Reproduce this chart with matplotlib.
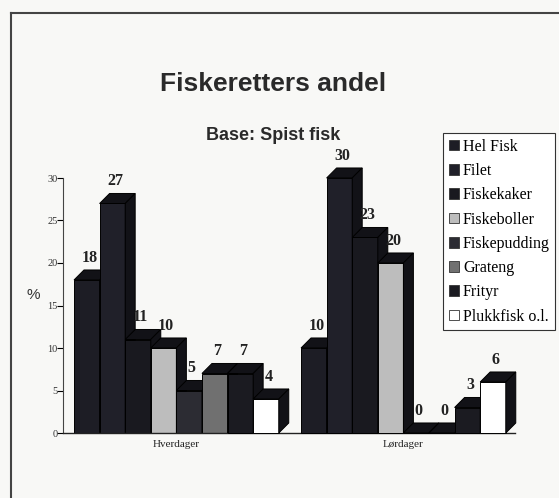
import matplotlib
matplotlib.use('Agg')
import matplotlib.pyplot as plt
from matplotlib.patches import Patch
import numpy as np

# data
groups = ['Hverdager', 'Lørdager']
series = ['Hel Fisk', 'Filet', 'Fiskekaker', 'Fiskeboller',
          'Fiskepudding', 'Grateng', 'Frityr', 'Plukkfisk o.l.']
hverdager = [18, 27, 11, 10, 5, 7, 7, 4]
lordager = [10, 30, 23, 20, 0, 0, 3, 6]
yticks = [0, 5, 10, 15, 20, 25, 30]

front_colors = ['#1d1d25', '#202029', '#19191f', '#bdbdbd',
                '#2c2c33', '#707070', '#1b1b21', '#ffffff']
face_dark = '#121217'
bg = '#f8f8f6'

fig = plt.figure(figsize=(5.59, 4.98), dpi=100, facecolor=bg)
ax = fig.add_axes([63 / 559, 65 / 498, 452 / 559, 255 / 498])
ax.set_facecolor(bg)

ax.set_ylim(0, 30)
ax.set_xlim(-0.43, 17.23)

group_start = [0.0, 8.87]
dx, dy = 0.39, 1.18   # depth of the fake 3d bars (data units)

for g, values in enumerate([hverdager, lordager]):
    for i, v in enumerate(values):
        x0 = group_start[g] + i
        z = 2 + g * 10 + i * 0.1
        ax.bar(x0, v, width=1, align='edge', color=front_colors[i],
               edgecolor='black', linewidth=0.7, zorder=z, clip_on=False)
        # top face
        ax.fill([x0, x0 + 1, x0 + 1 + dx, x0 + dx], [v, v, v + dy, v + dy],
                facecolor=face_dark, edgecolor='black', linewidth=0.7,
                zorder=z + 0.01, clip_on=False)
        # side face
        ax.fill([x0 + 1, x0 + 1 + dx, x0 + 1 + dx, x0 + 1], [0, dy, v + dy, v],
                facecolor=face_dark, edgecolor='black', linewidth=0.7,
                zorder=z + 0.02, clip_on=False)
        ax.text(x0 + 0.6, v + dy + 0.5, str(v), ha='center', va='bottom',
                fontsize=11.5, fontweight='bold', family='Liberation Serif',
                color='#222222', zorder=30, clip_on=False)

ax.set_yticks(yticks)
ax.set_yticklabels([str(t) for t in yticks], family='Liberation Serif',
                   fontsize=7.5, color='#333333')
ax.tick_params(axis='y', direction='out', length=4, width=0.8, pad=0)
ax.set_xticks([group_start[0] + 4.0, group_start[1] + 4.0])
ax.set_xticklabels(groups, family='Liberation Serif', fontsize=8,
                   color='#222222')
ax.tick_params(axis='x', length=0, pad=5)
for s in ['top', 'right']:
    ax.spines[s].set_visible(False)
ax.spines['left'].set_color('#444444')
ax.spines['bottom'].set_color('#222222')
ax.spines['left'].set_linewidth(0.8)
ax.spines['bottom'].set_linewidth(1.0)

fig.text(33 / 559, 1 - 295 / 498, '%', ha='center', va='center',
         fontsize=11, family='Liberation Sans', color='#333333')

fig.text(273 / 559, 1 - 84 / 498, 'Fiskeretters andel', ha='center',
         va='center', fontsize=19, fontweight='bold',
         family='Liberation Sans', color='#2a2a2a')
fig.text(273 / 559, 1 - 135 / 498, 'Base: Spist fisk', ha='center',
         va='center', fontsize=13, fontweight='bold',
         family='Liberation Sans', color='#2a2a2a')

handles = [Patch(facecolor=c, edgecolor='#333333', linewidth=0.6)
           for c in front_colors]
leg = fig.legend(handles, series, loc='upper left',
                 bbox_to_anchor=(443 / 559, 1 - 133 / 498),
                 prop={'family': 'Liberation Serif', 'size': 11.5},
                 handlelength=0.65, handleheight=0.65, handletextpad=0.25,
                 labelspacing=0.52, borderpad=0.35, borderaxespad=0,
                 fancybox=False, framealpha=1, facecolor='white',
                 edgecolor='#333333')
leg.get_frame().set_linewidth(0.8)

# slide frame
fig.add_artist(plt.Line2D([11 / 559, 1], [1 - 13 / 498, 1 - 13 / 498],
                          transform=fig.transFigure, color='#444444', lw=1.5))
fig.add_artist(plt.Line2D([11 / 559, 11 / 559], [0, 1 - 13 / 498],
                          transform=fig.transFigure, color='#444444', lw=1.5))

fig.savefig('out.png', dpi=100, facecolor=bg)
